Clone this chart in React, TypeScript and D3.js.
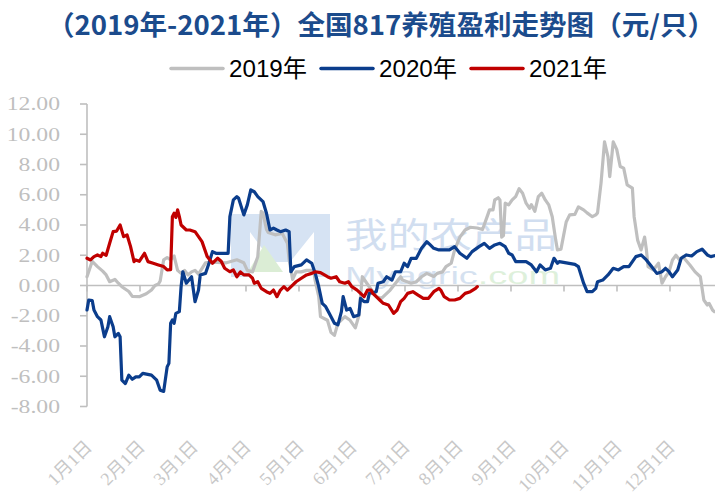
import React from 'react';
import * as d3 from 'd3';

const titleText = '（2019年-2021年）全国817养殖盈利走势图（元/只）';
const seriesNames = ['2019年', '2020年', '2021年'];
const seriesColors = ['#bfbfbf', '#0b3d8c', '#c00000'];
const yTicks = [-8, -6, -4, -2, 0, 2, 4, 6, 8, 10, 12];
const monthLabels = ['1月1日', '2月1日', '3月1日', '4月1日', '5月1日', '6月1日', '7月1日', '8月1日', '9月1日', '10月1日', '11月1日', '12月1日'];

// day of year / profit (元/只)
const days2019 = [0, 3, 6, 9, 11, 13, 16, 18, 20, 24, 26, 30, 34, 37, 39, 41, 42, 44, 46, 48, 50, 52, 54, 56, 58, 60, 62, 64, 68, 72, 80, 86, 90, 92, 95, 98, 100, 101, 103, 104, 108, 112, 115, 116, 118, 120, 123, 126, 130, 131, 133, 134, 138, 140, 142, 144, 148, 151, 154, 156, 158, 160, 162, 166, 169, 174, 180, 181, 186, 189, 192, 195, 199, 201, 204, 206, 209, 211, 214, 217, 220, 224, 227, 230, 231, 233, 234, 236, 237, 238, 239, 240, 242, 244, 246, 248, 250, 252, 254, 255, 257, 259, 261, 263, 265, 267, 269, 270, 272, 273, 275, 277, 280, 282, 285, 287, 290, 292, 293, 295, 297, 299, 300, 302, 304, 306, 308, 310, 313, 314, 316, 318, 320, 321, 322, 325, 328, 330, 332, 334, 336, 338, 340, 342, 346, 349, 352, 354, 356, 357, 359, 360];
const vals2019 = [0.58, 1.6, 1.25, 0.95, 0.7, 0.25, 0.4, 0.15, -0.08, -0.4, -0.72, -0.74, -0.55, -0.3, 0.0, 0.1, 0.3, 1.7, 1.85, 1.7, 1.95, 1.0, 0.8, 1.0, 0.7, 0.9, 1.0, 0.75, 1.5, 1.55, 1.5, 1.7, 1.5, 1.0, 0.9, 1.9, 4.9, 4.8, 3.7, 3.5, 3.35, 3.45, 2.8, 1.7, 0.4, 0.9, 0.9, 1.0, 1.0, 0.3, -0.74, -2.06, -2.3, -3.1, -3.3, -2.5, -2.06, -2.3, -2.8, -2.0, 0.58, 0.25, -0.08, -0.74, -0.85, -0.3, 0.58, 0.36, 0.15, 0.25, 0.58, 0.8, 0.6, 0.8, 0.9, 1.25, 1.47, 2.35, 3.2, 3.67, 3.85, 3.8, 3.7, 4.67, 5.0, 5.0, 5.66, 5.8, 5.66, 3.2, 3.3, 5.44, 5.33, 5.66, 5.88, 6.4, 6.1, 5.44, 5.1, 5.35, 4.9, 5.88, 6.1, 5.66, 5.33, 4.55, 3.0, 2.35, 2.4, 3.0, 4.2, 4.67, 4.7, 5.2, 5.0, 4.8, 4.55, 4.67, 4.8, 6.77, 9.5, 8.5, 7.2, 9.5, 9.0, 7.87, 7.76, 6.65, 6.44, 4.55, 3.0, 2.35, 3.2, 2.4, 1.25, 1.03, 1.47, 0.15, 0.58, 0.9, 1.69, 2.0, 1.7, 1.9, 1.36, 0.9, 0.58, -0.96, -1.29, -1.18, -1.62, -1.73];

const days2020 = [0, 1, 3, 4, 6, 8, 9, 10, 12, 13, 15, 16, 18, 19, 20, 22, 24, 26, 28, 30, 32, 37, 40, 42, 44, 46, 47, 48, 49, 50, 51, 53, 54, 55, 57, 60, 62, 64, 65, 68, 70, 72, 74, 81, 82, 84, 86, 87, 90, 92, 94, 96, 98, 101, 103, 105, 107, 109, 111, 114, 116, 117, 119, 123, 126, 129, 131, 133, 135, 137, 139, 142, 144, 146, 147, 149, 151, 153, 156, 157, 159, 161, 162, 166, 167, 170, 172, 175, 177, 180, 182, 184, 186, 189, 192, 195, 197, 199, 202, 208, 211, 214, 218, 221, 225, 228, 231, 234, 237, 240, 242, 244, 246, 252, 255, 258, 260, 263, 266, 268, 270, 271, 280, 282, 285, 287, 290, 292, 293, 296, 299, 302, 305, 308, 311, 313, 315, 318, 321, 324, 327, 330, 332, 334, 336, 339, 341, 344, 347, 350, 353, 356, 358, 360];
const vals2020 = [-1.62, -0.96, -1.0, -1.62, -2.06, -2.28, -2.83, -3.39, -2.73, -2.06, -2.73, -3.39, -3.17, -3.39, -6.26, -6.48, -5.93, -6.2, -6.04, -6.04, -5.81, -5.93, -6.26, -6.92, -7.0, -5.38, -5.15, -2.5, -2.28, -2.5, -1.84, -1.73, -0.08, 0.91, 0.15, 0.58, -1.07, -0.3, 0.7, 0.8, 1.47, 2.24, 2.13, 2.13, 4.55, 5.66, 5.88, 5.77, 4.67, 5.33, 6.32, 6.2, 5.88, 5.55, 4.78, 3.67, 3.79, 3.67, 3.56, 3.67, 3.56, 0.91, 1.25, 1.36, 1.69, 1.47, 0.8, -0.08, -1.18, -1.4, -1.84, -2.5, -2.6, -1.73, -0.74, -1.62, -1.51, -2.06, -1.95, -0.85, -1.07, -1.07, -0.52, -0.41, 0.15, 0.25, 0.58, 0.36, 0.91, 0.91, 1.47, 1.25, 1.8, 1.8, 2.46, 2.9, 2.68, 2.46, 2.35, 2.35, 2.57, 2.13, 1.8, 2.24, 2.57, 2.79, 2.46, 2.68, 2.79, 2.57, 2.13, 2.02, 1.58, 1.58, 1.36, 0.91, 1.36, 1.03, 1.14, 1.8, 1.47, 1.58, 1.4, 1.25, 0.15, -0.41, -0.41, -0.19, 0.25, 0.36, 0.7, 1.14, 1.03, 1.25, 1.25, 1.58, 1.91, 2.02, 1.69, 1.25, 0.8, 0.91, 1.14, 0.91, 0.58, 1.03, 1.8, 2.02, 1.95, 2.24, 2.4, 2.02, 1.91, 1.97];

const days2021 = [0, 2, 4, 6, 8, 9, 11, 13, 15, 17, 19, 21, 23, 25, 27, 28, 30, 33, 35, 38, 41, 44, 46, 48, 49, 50, 51, 52, 53, 54, 57, 59, 62, 64, 66, 69, 72, 74, 75, 77, 79, 82, 84, 86, 88, 90, 93, 95, 96, 98, 100, 103, 105, 107, 109, 111, 113, 115, 118, 120, 123, 126, 129, 131, 134, 138, 140, 143, 145, 148, 150, 152, 155, 157, 159, 161, 163, 164, 166, 168, 170, 173, 176, 178, 180, 182, 184, 187, 190, 193, 196, 199, 202, 203, 205, 208, 211, 214, 217, 220, 223, 224];
const vals2021 = [1.8, 1.69, 1.91, 2.02, 1.91, 2.13, 2.0, 2.79, 3.56, 3.6, 4.0, 3.23, 3.34, 2.57, 1.58, 1.69, 1.6, 2.13, 1.58, 1.47, 1.36, 1.25, 1.03, 1.05, 4.55, 4.78, 4.5, 5.0, 4.55, 4.0, 3.67, 3.67, 3.56, 3.23, 2.9, 1.91, 1.47, 1.69, 1.8, 1.6, 1.14, 0.91, 1.03, 0.58, 0.9, 0.7, 0.7, 0.48, 0.15, 0.25, -0.19, -0.41, -0.52, -0.3, -0.74, -0.3, -0.08, -0.3, 0.03, 0.25, 0.48, 0.7, 0.8, 0.91, 0.85, 0.58, 0.48, 0.58, 0.25, 0.15, 0.25, -0.08, -0.3, -0.52, -0.74, -0.3, -0.3, -0.52, -0.74, -0.96, -1.18, -1.29, -1.84, -1.62, -1.07, -0.85, -0.52, -0.41, -0.63, -0.85, -0.85, -0.41, -0.19, -0.3, -0.74, -0.96, -0.96, -0.85, -0.52, -0.41, -0.19, -0.08];

const W = 715;
const H = 502;

export default function App() {
  const x = d3.scaleLinear().domain([0, 365]).range([87, 723]);
  const y = d3.scaleLinear().domain([-8, 12]).range([406.5, 104]);
  const line = d3
    .line<[number, number]>()
    .x((d) => x(d[0]))
    .y((d) => y(d[1]));

  const series = [
    { days: days2019, vals: vals2019 },
    { days: days2020, vals: vals2020 },
    { days: days2021, vals: vals2021 },
  ].map((s) => s.days.map((d, i) => [d, s.vals[i]] as [number, number]));

  const monthPos = monthLabels.map((_, i) => (i * 365) / 12);
  const axisColor = '#bfbfbf';

  const legendX = [171, 321, 471];

  return (
    <svg
      width={W}
      height={H}
      viewBox={`0 0 ${W} ${H}`}
      style={{ position: 'absolute', left: 0, top: 0, background: '#fff' }}
    >
      <rect x={0} y={0} width={W} height={H} fill="#ffffff" />
      <text
        x={47}
        y={35}
        fontFamily="'Noto Sans CJK SC', sans-serif"
        fontWeight="bold"
        fontSize={27}
        fill="#1b4b8c"
        textLength={668}
        lengthAdjust="spacingAndGlyphs"
      >
        {titleText}
      </text>

      {seriesNames.map((name, i) => (
        <g key={name}>
          <line
            x1={legendX[i]}
            x2={legendX[i] + 52}
            y1={68.5}
            y2={68.5}
            stroke={seriesColors[i]}
            strokeWidth={3.5}
            strokeLinecap="round"
          />
          <text
            x={legendX[i] + 58}
            y={77}
            fontFamily="'Liberation Sans', 'Noto Sans CJK SC', sans-serif"
            fontSize={24}
            fill="#000"
            textLength={78}
            lengthAdjust="spacingAndGlyphs"
          >
            {name}
          </text>
        </g>
      ))}

      {/* watermark */}
      <g opacity={0.75}>
        <path
          d="M231,277 V214 H330 V277 H314 V232 L290,262 H272 L250,232 V277 Z"
          fill="#c9daef"
        />
        <path d="M248,272 L264,245 L283,272 Z" fill="#cfe8c8" />
        <text
          x={345}
          y={248}
          fontFamily="'Noto Sans CJK SC', sans-serif"
          fontSize={35}
          fill="#c2d4ec"
          textLength={212}
          lengthAdjust="spacingAndGlyphs"
        >
          我的农产品
        </text>
        <text
          x={345}
          y={284}
          fontFamily="'Liberation Sans', sans-serif"
          fontSize={23}
          textLength={215}
          lengthAdjust="spacingAndGlyphs"
        >
          <tspan fill="#c8d8ec">Myagric</tspan>
          <tspan fill="#d3ecd0">.com</tspan>
        </text>
      </g>

      {/* y axis */}
      <line x1={87} x2={87} y1={y(12)} y2={y(-8)} stroke={axisColor} strokeWidth={1.6} />
      {yTicks.map((t) => (
        <g key={t}>
          <line x1={80} x2={87} y1={y(t)} y2={y(t)} stroke={axisColor} strokeWidth={1.6} />
          <text
            transform={`translate(60,${y(t)}) scale(1.28,1)`}
            textAnchor="end"
            dy="0.35em"
            fontFamily="'Liberation Serif', serif"
            fontSize={18.5}
            fill="#bfbfbf"
          >
            {t.toFixed(2)}
          </text>
        </g>
      ))}

      {/* zero line with month ticks */}
      <line x1={87} x2={W} y1={y(0)} y2={y(0)} stroke={axisColor} strokeWidth={1.6} />
      {monthPos.map((d, i) => (
        <line key={i} x1={x(d)} x2={x(d)} y1={y(0)} y2={y(0) + 6} stroke={axisColor} strokeWidth={1.6} />
      ))}
      {monthLabels.map((lab, i) => (
        <text
          key={lab}
          transform={`translate(${x(monthPos[i]) + 6},448) rotate(-45)`}
          textAnchor="end"
          fontFamily="'Liberation Serif', 'Noto Sans CJK SC', serif"
          fontSize={18}
          fill="#c8c8c8"
        >
          {lab}
        </text>
      ))}

      {series.map((pts, i) => (
        <path
          key={i}
          d={line(pts) || ''}
          fill="none"
          stroke={seriesColors[i]}
          strokeWidth={3.2}
          strokeLinejoin="round"
          strokeLinecap="round"
        />
      ))}
    </svg>
  );
}
